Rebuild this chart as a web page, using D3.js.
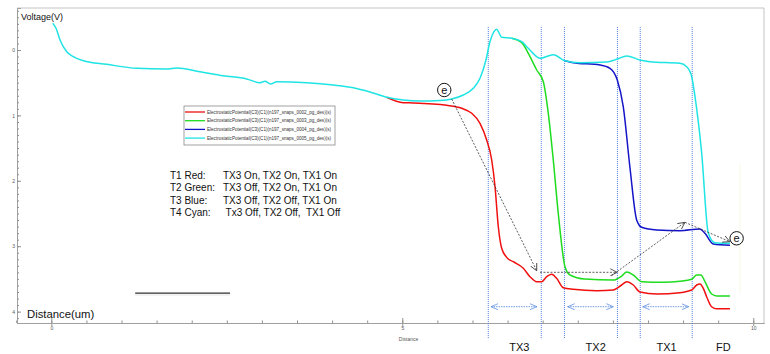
<!DOCTYPE html>
<html>
<head>
<meta charset="utf-8">
<script src="https://cdn.jsdelivr.net/npm/d3@7"></script>
<style>
body { margin: 0; background: #fff; }
svg { display: block; font-family: "Liberation Sans", Arial, sans-serif; }
</style>
</head>
<body>
<svg width="770" height="354"></svg>
<script>
// curves: [distance um, voltage V]
var cyanPts = [[0.02,-0.408],[0.067,-0.332],[0.124,-0.153],[0.219,0.026],[0.313,0.102],[0.456,0.164],[0.789,0.219],[1.217,0.28],[1.644,0.291],[1.786,0.275],[2.118,0.332],[2.45,0.393],[2.783,0.443],[2.973,0.5],[3.044,0.479],[3.125,0.52],[3.211,0.485],[3.638,0.5],[4.017,0.535],[4.302,0.576],[4.54,0.642],[4.778,0.723],[5.014,0.765],[5.252,0.78],[5.537,0.772],[5.704,0.749],[5.869,0.688],[6.011,0.586],[6.107,0.433],[6.192,0.153],[6.249,-0.127],[6.306,-0.28],[6.345,-0.317],[6.382,-0.255],[6.416,-0.194],[6.558,-0.179],[6.701,-0.127],[6.795,-0.026],[6.915,0.102],[6.961,0.127],[7.151,0.072],[7.318,0.164],[7.531,0.194],[7.912,0.183],[8.054,0.142],[8.197,0.092],[8.386,0.153],[8.528,0.179],[8.956,0.203],[9.051,0.255],[9.123,0.408],[9.17,0.714],[9.265,1.575],[9.359,2.798],[9.455,2.946],[9.668,2.956]];
var bluePts = [[7.318,0.164],[7.436,0.194],[7.816,0.229],[7.959,0.28],[8.063,0.459],[8.148,0.867],[8.244,1.804],[8.339,2.599],[8.41,2.711],[8.624,2.752],[8.956,2.763],[9.241,2.737],[9.312,2.803],[9.43,2.966],[9.668,2.986]];
var greenPts = [[6.558,-0.179],[6.701,-0.112],[6.795,0.05],[6.915,0.306],[7.009,0.485],[7.08,0.968],[7.151,1.682],[7.222,2.497],[7.318,3.313],[7.389,3.44],[7.603,3.502],[8.006,3.517],[8.125,3.456],[8.197,3.394],[8.291,3.44],[8.41,3.543],[8.718,3.552],[8.956,3.537],[9.123,3.506],[9.194,3.44],[9.255,3.44],[9.312,3.543],[9.407,3.731],[9.479,3.761],[9.668,3.761]];
var redPts = [[4.778,0.723],[5.014,0.806],[5.157,0.81],[5.632,0.846],[5.846,0.891],[5.989,0.968],[6.107,1.121],[6.202,1.376],[6.274,1.682],[6.321,2.09],[6.368,2.702],[6.416,3.032],[6.487,3.17],[6.581,3.237],[6.724,3.338],[6.819,3.466],[6.915,3.543],[6.986,3.543],[7.057,3.466],[7.128,3.43],[7.199,3.491],[7.293,3.635],[7.436,3.659],[7.769,3.68],[8.006,3.67],[8.125,3.593],[8.197,3.543],[8.291,3.593],[8.386,3.7],[8.624,3.731],[8.956,3.711],[9.123,3.67],[9.194,3.593],[9.241,3.578],[9.288,3.644],[9.336,3.772],[9.407,3.925],[9.479,3.956],[9.668,3.956]];

var seriesNames = ["ElectrostaticPotential(C3)(C1)(n197_snaps_0002_pg_des)(s)",
  "ElectrostaticPotential(C3)(C1)(n197_snaps_0003_pg_des)(s)",
  "ElectrostaticPotential(C3)(C1)(n197_snaps_0004_pg_des)(s)",
  "ElectrostaticPotential(C3)(C1)(n197_snaps_0005_pg_des)(s)"];
var seriesColors = ["#f01010", "#1fdc1f", "#1414c8", "#1fe4e4"];

var regionEdges = [6.225, 6.98, 7.31, 8.065, 8.39, 9.13];
var regionSpans = [[6.264, 6.919], [7.356, 8.006], [8.425, 9.08]];
var regionLabels = ["TX3", "TX2", "TX1", "FD"];
var regionLabelX = [6.667, 7.755, 8.766, 9.573];

var stateLabels = ["T1 Red:", "T2 Green:", "T3 Blue:", "T4 Cyan:"];
var stateTexts = ["TX3 On, TX2 On, TX1 On", "TX3 Off, TX2 On, TX1 On", "TX3 Off, TX2 Off, TX1 On", " Tx3 Off, TX2 Off,  TX1 Off"];

// electron path annotation
var arrowPath = [[[5.704, 0.749], [6.915, 3.375]], [[6.961, 3.399], [8.063, 3.399]], [[7.98, 3.45], [9.027, 2.635]], [[9.027, 2.635], [9.668, 2.931]]];
var electrons = [[5.598, 0.612], [9.763, 2.879]];
var scaleBar = [[1.195, 3.716], [2.546, 3.716]];

var svg = d3.select("svg");
var x = d3.scaleLinear().domain([-0.489, 10.153]).range([17, 764]);
var y = d3.scaleLinear().domain([-0.642, 4.174]).range([8, 323]);

var defs = svg.append("defs");
defs.append("marker").attr("id", "headK").attr("viewBox", "0 0 8 8").attr("refX", 7).attr("refY", 4)
  .attr("markerWidth", 8).attr("markerHeight", 8).attr("markerUnits", "userSpaceOnUse").attr("orient", "auto")
  .append("path").attr("d", "M0,0.5 L7,4 L0,7.5").attr("fill", "none").attr("stroke", "#333").attr("stroke-width", 0.8);
defs.append("marker").attr("id", "headB").attr("viewBox", "0 0 8 8").attr("refX", 7).attr("refY", 4)
  .attr("markerWidth", 8).attr("markerHeight", 8).attr("markerUnits", "userSpaceOnUse").attr("orient", "auto-start-reverse")
  .append("path").attr("d", "M0,1 L7,4 L0,7").attr("fill", "none").attr("stroke", "#5f8ee0").attr("stroke-width", 0.8);

// frame
svg.append("path").attr("d", "M17,8 H764 V323").attr("fill", "none").attr("stroke", "#c4c4c4").attr("stroke-width", 1);

// y axis, ticks pointing inward
var yMajor = svg.append("g").attr("transform", "translate(17,0)")
  .call(d3.axisLeft(y).tickValues([0, 1, 2, 3, 4]).tickSize(-4).tickPadding(2).tickFormat(d3.format("d")));
var yMinor = svg.append("g").attr("transform", "translate(17,0)")
  .call(d3.axisLeft(y).tickValues(d3.range(-0.6, 4.15, 0.1)).tickSize(-2).tickFormat(""));
var xMajor = svg.append("g").attr("transform", "translate(0,323)")
  .call(d3.axisBottom(x).tickValues([0, 5, 10]).tickSizeInner(-5).tickSizeOuter(0).tickPadding(3).tickFormat(d3.format("d")));
var xMinor = svg.append("g").attr("transform", "translate(0,323)")
  .call(d3.axisBottom(x).tickValues(d3.range(-0.5, 10.1, 0.5)).tickSizeInner(-2.5).tickSizeOuter(0).tickFormat(""));
[yMajor, yMinor, xMajor, xMinor].forEach(function(g) {
  g.selectAll("path.domain").attr("stroke", "#a0a0a0");
  g.selectAll("line").attr("stroke", "#909090");
  g.selectAll("text").style("font-size", "5px").attr("fill", "#555").style("font-family", "Liberation Sans, Arial, sans-serif");
});
xMajor.selectAll("line").attr("y2", -5).attr("y1", 3);

svg.append("text").attr("x", x(4.95)).attr("y", 341).text("Distance").style("font-size", "5px").attr("fill", "#555");
svg.append("text").attr("x", 21).attr("y", 20).text("Voltage(V)").style("font-size", "9px").attr("fill", "#111");
svg.append("text").attr("x", 27).attr("y", 318).text("Distance(um)").style("font-size", "11.3px").attr("fill", "#111");

// region markers
svg.selectAll(".edge").data(regionEdges).enter().append("line")
  .attr("x1", function(d) { return x(d); }).attr("x2", function(d) { return x(d); })
  .attr("y1", y(-0.352)).attr("y2", y(4.42))
  .attr("stroke", "#3d6fe0").attr("stroke-width", 0.9).attr("stroke-dasharray", "1,1");
svg.append("line").attr("x1", x(9.81)).attr("x2", x(9.81)).attr("y1", y(1.73)).attr("y2", y(3.72))
  .attr("stroke", "#f6f9e8").attr("stroke-width", 1);
svg.selectAll(".span").data(regionSpans).enter().append("line")
  .attr("x1", function(d) { return x(d[0]); }).attr("x2", function(d) { return x(d[1]); })
  .attr("y1", y(3.925)).attr("y2", y(3.925))
  .attr("stroke", "#5f8ee0").attr("stroke-width", 0.9).attr("stroke-dasharray", "1.5,1")
  .attr("marker-start", "url(#headB)").attr("marker-end", "url(#headB)");
svg.selectAll(".rlab").data(regionLabels).enter().append("text")
  .attr("x", function(d, i) { return x(regionLabelX[i]); }).attr("y", 351)
  .attr("text-anchor", "middle").text(function(d) { return d; })
  .style("font-size", "11px").attr("fill", "#111");

// curves, drawn red first so cyan sits on top
var line = d3.line().x(function(d) { return x(d[0]); }).y(function(d) { return y(d[1]); }).curve(d3.curveMonotoneX);
[redPts, greenPts, bluePts, cyanPts].forEach(function(pts, i) {
  svg.append("path").datum(pts).attr("d", line).attr("fill", "none")
    .attr("stroke", seriesColors[i]).attr("stroke-width", 1.5).attr("stroke-linejoin", "round");
});

// electron path
svg.selectAll(".epath").data(arrowPath).enter().append("line")
  .attr("x1", function(d) { return x(d[0][0]); }).attr("y1", function(d) { return y(d[0][1]); })
  .attr("x2", function(d) { return x(d[1][0]); }).attr("y2", function(d) { return y(d[1][1]); })
  .attr("stroke", "#333").attr("stroke-width", 0.8).attr("stroke-dasharray", "2,1.5")
  .attr("marker-end", "url(#headK)");
var eg = svg.selectAll(".el").data(electrons).enter().append("g")
  .attr("transform", function(d) { return "translate(" + x(d[0]) + "," + y(d[1]) + ")"; });
eg.append("circle").attr("r", 6.7).attr("fill", "#fff").attr("stroke", "#111").attr("stroke-width", 1);
eg.append("text").attr("y", 3.6).attr("text-anchor", "middle").text("e").style("font-size", "11px").attr("fill", "#111");

// scale bar
svg.append("line").attr("x1", x(scaleBar[0][0])).attr("x2", x(scaleBar[1][0]))
  .attr("y1", y(scaleBar[0][1]) + 1.5).attr("y2", y(scaleBar[1][1]) + 1.5)
  .attr("stroke", "#f2f2f2").attr("stroke-width", 3);
svg.append("line").attr("x1", x(scaleBar[0][0])).attr("x2", x(scaleBar[1][0]))
  .attr("y1", y(scaleBar[0][1])).attr("y2", y(scaleBar[1][1]))
  .attr("stroke", "#333").attr("stroke-width", 1.3);

// legend
var lg = svg.append("g");
lg.append("rect").attr("x", 184).attr("y", 106).attr("width", 151).attr("height", 39)
  .attr("fill", "#fff").attr("stroke", "#8a8a8a").attr("stroke-width", 0.8);
seriesNames.forEach(function(name, i) {
  var ly = 112 + i * 8.7;
  lg.append("line").attr("x1", 185).attr("x2", 205).attr("y1", ly).attr("y2", ly)
    .attr("stroke", seriesColors[i]).attr("stroke-width", 1.3);
  lg.append("text").attr("x", 207).attr("y", ly + 1.6).text(name)
    .attr("textLength", 124).attr("lengthAdjust", "spacingAndGlyphs")
    .style("font-size", "4.5px").attr("fill", "#333");
});

// state notes
stateLabels.forEach(function(lab, i) {
  var by = 179 + i * 12.3;
  svg.append("text").attr("x", 170).attr("y", by).text(lab).style("font-size", "10px").attr("fill", "#111");
  svg.append("text").attr("x", 223).attr("y", by).attr("xml:space", "preserve").style("white-space", "pre")
    .text(stateTexts[i]).style("font-size", "10px").attr("fill", "#111");
});
</script>
</body>
</html>
